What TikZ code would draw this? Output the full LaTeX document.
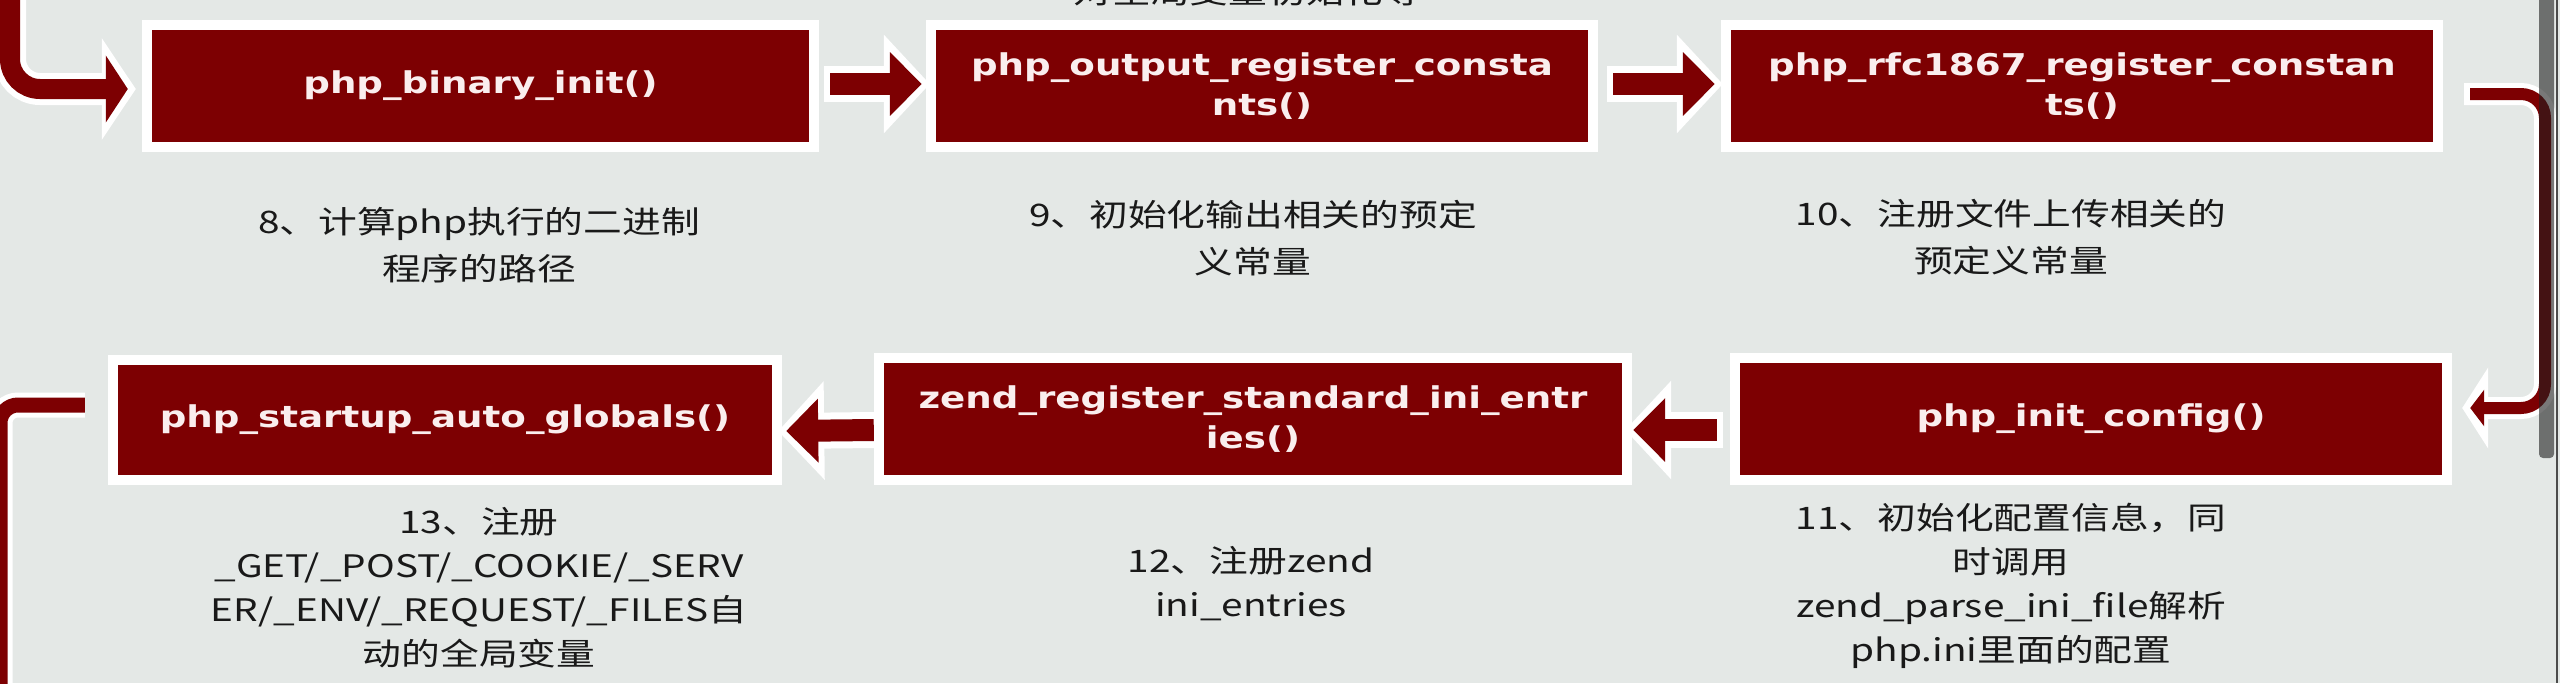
\documentclass[tikz,border=0pt]{standalone}
\usepackage{fontspec}
\usetikzlibrary{arrows.meta,calc}
\newfontfamily\boxfont[FakeStretch=1.24]{DejaVu Sans Bold}
\newfontfamily\capfont[FakeStretch=1.25]{Noto Sans CJK SC}
\definecolor{bgc}{RGB}{228,232,230}
\definecolor{dred}{RGB}{125,0,2}
\definecolor{boxtxt}{RGB}{250,238,238}
\definecolor{captxt}{RGB}{25,25,25}
\begin{document}
\begin{tikzpicture}[x=1pt,y=-1pt,
  box/.style={fill=dred, preaction={draw=white, line width=20pt}, text=boxtxt,
    font=\boxfont\fontsize{30}{40}\selectfont, align=center, inner sep=0pt},
  captext/.style={text=captxt, font=\capfont\fontsize{31}{47}\selectfont, align=center, inner sep=0pt, anchor=north},
  captextb/.style={captext, font=\capfont\fontsize{31}{44}\selectfont},
  arr/.style={draw=dred, line width=22pt, -{Triangle[length=32pt,width=62pt]}},
  arrglow/.style={draw=white, line width=36pt, -{Triangle[length=46pt,width=96pt]}, shorten <=-6pt, shorten >=-8pt},
  curl/.style={draw=dred, line width=20pt, rounded corners=30pt, -{Triangle[length=22pt,width=66pt]}},
  curlglow/.style={draw=white, line width=32pt, rounded corners=30pt, -{Triangle[length=34pt,width=100pt]}, shorten >=-8pt},
  thinarr/.style={draw=dred, line width=12pt, rounded corners=24pt, -{Triangle[length=14pt,width=36pt]}},
  thinglow/.style={draw=white, line width=22pt, rounded corners=24pt, -{Triangle[length=26pt,width=80pt]}, shorten >=-8pt, shorten <=-6pt},
  tailline/.style={draw=dred, line width=15pt, rounded corners=18pt},
  tailglow/.style={draw=white, line width=25pt, rounded corners=18pt}
]
\useasboundingbox (0,0) rectangle (2560,683);
\fill[bgc] (0,0) rectangle (2560,683);

% cut-off caption at the top
\node[text=captxt, font=\capfont\fontsize{31}{47}\selectfont, anchor=base, inner sep=0pt] (t0) at (1248,3) {对全局变量初始化等};

% coordinates for free ends
\coordinate (tl) at (10,-20);
\coordinate (rv) at (2545,250);
\coordinate (bl) at (0,720);

% boxes (named first so connectors can refer to them)
\path node[box, minimum width=657pt, minimum height=112pt] (b1) at (480.5,86) {php\_binary\_init()}
      node[box, minimum width=652pt, minimum height=112pt] (b2) at (1262,86) {php\_output\_register\_consta\\nts()}
      node[box, minimum width=702pt, minimum height=112pt] (b3) at (2082,86) {php\_rfc1867\_register\_constan\\ts()}
      node[box, minimum width=654pt, minimum height=110pt] (b4) at (445,420) {php\_startup\_auto\_globals()}
      node[box, minimum width=738pt, minimum height=112pt] (b5) at (1253,419) {zend\_register\_standard\_ini\_entr\\ies()}
      node[box, minimum width=702pt, minimum height=112pt] (b6) at (2091,419) {php\_init\_config()};

% glows
\draw[curlglow] (tl) |- ($(b1.west)+(-24,3)$);
\draw[arrglow] ($(b1.east)+(21,-2)$) -- ($(b2.west)+(-14,-2)$);
\draw[arrglow] ($(b2.east)+(25,-2)$) -- ($(b3.west)+(-16,-2)$);
\draw[thinglow] ($(b3.east)+(37,8)$) -| (rv) |- ($(b6.east)+(28,-11)$);
\draw[arrglow] ($(b6.west)+(-23,11)$) -- ($(b5.east)+(11,11)$);
\draw[arrglow] ($(b5.west)+(-10,11)$) -- ($(b4.east)+(14,11)$);
\draw[tailglow] ($(b4.west)+(-33,-15)$) -| (bl);

% redraw boxes on top of glows
\path node[box, minimum width=657pt, minimum height=112pt] at (b1) {php\_binary\_init()}
      node[box, minimum width=652pt, minimum height=112pt] at (b2) {php\_output\_register\_consta\\nts()}
      node[box, minimum width=702pt, minimum height=112pt] at (b3) {php\_rfc1867\_register\_constan\\ts()}
      node[box, minimum width=654pt, minimum height=110pt] at (b4) {php\_startup\_auto\_globals()}
      node[box, minimum width=738pt, minimum height=112pt] at (b5) {zend\_register\_standard\_ini\_entr\\ies()}
      node[box, minimum width=702pt, minimum height=112pt] at (b6) {php\_init\_config()};

% red connectors
\draw[curl] (tl) |- ($(b1.west)+(-24,3)$);
\draw[arr] ($(b1.east)+(21,-2)$) -- ($(b2.west)+(-14,-2)$);
\draw[arr] ($(b2.east)+(25,-2)$) -- ($(b3.west)+(-16,-2)$);
\draw[thinarr] ($(b3.east)+(37,8)$) -| (rv) |- ($(b6.east)+(28,-11)$);
\draw[arr] ($(b6.west)+(-23,11)$) -- ($(b5.east)+(11,11)$);
\draw[arr] ($(b5.west)+(-10,11)$) -- ($(b4.east)+(14,11)$);
\draw[tailline] ($(b4.west)+(-33,-15)$) -| (bl);

% captions
\node[captext] (c8) at (479,207) {8、计算php执行的二进制\\程序的路径};
\node[captext] (c9) at (1253,200) {9、初始化输出相关的预定\\义常量};
\node[captext] (c10) at (2011,199) {10、注册文件上传相关的\\预定义常量};
\node[captextb] (c13) at (479,507) {13、注册\\\_GET/\_POST/\_COOKIE/\_SERV\\ER/\_ENV/\_REQUEST/\_FILES自\\动的全局变量};
\node[captextb] (c12) at (1251,546) {12、注册zend\\ini\_entries};
\node[captextb] (c11) at (2011,503) {11、初始化配置信息，同\\时调用\\zend\_parse\_ini\_file解析\\php.ini里面的配置};

% scrollbar at the right edge
\fill[black!88, opacity=0.6, rounded corners=4pt] (2539,-10) rectangle (2554,458);
\fill[black!70] (2556,0) rectangle (2558,683);
\end{tikzpicture}
\end{document}
